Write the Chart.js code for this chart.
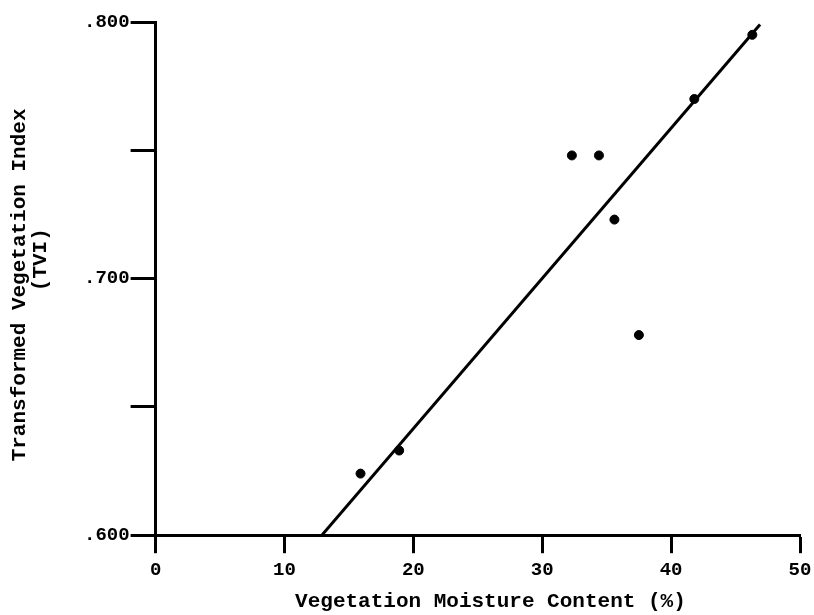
<!DOCTYPE html>
<html>
<head>
<meta charset="utf-8">
<script src="https://cdn.jsdelivr.net/npm/chart.js@4.4.1/dist/chart.umd.min.js"></script>
<style>
    html, body { margin: 0; padding: 0; background: #fff; }
    #wrap { width: 814px; height: 615px; }
</style>
</head>
<body>
<div id="wrap"><canvas id="chart"></canvas></div>
<script>
// measured samples: moisture (%) vs transformed vegetation index
const moisture = [15.9, 18.9, 32.3, 34.4, 35.6, 37.5, 41.8, 46.3]
const tvi = [0.624, 0.633, 0.748, 0.748, 0.723, 0.678, 0.770, 0.795]

// regression line end points
const fitX = [12.9, 46.9]
const fitY = [0.600, 0.799]

const xTicks = [0, 10, 20, 30, 40, 50]
const yLabelled = ['.600', '.700', '.800']

const ink = '#000'
const mono = 'Liberation Mono'

const tickFont = { family: mono, size: 19, weight: 'bold' }
const titleFont = { family: mono, size: 21, weight: 'bold', lineHeight: 1 }

new Chart(document.getElementById('chart'), {
    type: 'scatter',
    data: {
        datasets: [
            {
                data: moisture.map((x, i) => ({ x, y: tvi[i] })),
                backgroundColor: ink,
                borderColor: ink,
                pointRadius: 4.5,
                order: 0,
            },
            {
                data: fitX.map((x, i) => ({ x, y: fitY[i] })),
                showLine: true,
                borderColor: ink,
                borderWidth: 3,
                pointRadius: 0,
                order: 1,
            },
        ],
    },
    options: {
        responsive: true,
        maintainAspectRatio: false,
        animation: false,
        layout: { padding: { top: 22, right: 14, bottom: 2, left: 9 } },
        plugins: {
            legend: { display: false },
            tooltip: { enabled: false },
        },
        scales: {
            x: {
                type: 'linear',
                min: 0,
                max: 50,
                afterBuildTicks: (axis) => {
                    axis.ticks = xTicks.map((value) => ({ value }))
                },
                // the "50" label may overhang; layout padding already leaves room
                afterFit: (axis) => {
                    axis.paddingRight = 0
                },
                border: { display: true, color: ink, width: 3 },
                grid: {
                    drawOnChartArea: false,
                    drawTicks: true,
                    tickLength: 18,
                    tickWidth: 3,
                    tickColor: ink,
                },
                ticks: { color: ink, font: tickFont, padding: 6, maxRotation: 0 },
                title: {
                    display: true,
                    // leading blanks push the title a little right, as in the scan
                    text: '  Vegetation Moisture Content (%)',
                    color: ink,
                    font: titleFont,
                    padding: { top: 3, bottom: 1 },
                },
            },
            y: {
                type: 'linear',
                min: 0.6,
                max: 0.8,
                ticks: {
                    stepSize: 0.05,
                    color: ink,
                    font: tickFont,
                    padding: 1,
                    callback: (v) => {
                        const label = '.' + v.toFixed(3).slice(2)
                        return yLabelled.includes(label) ? label : ''
                    },
                },
                border: { display: true, color: ink, width: 3 },
                grid: {
                    drawOnChartArea: false,
                    drawTicks: true,
                    tickLength: 25,
                    tickWidth: 3,
                    tickColor: ink,
                },
                title: {
                    display: true,
                    text: ['Transformed Vegetation Index ', '   (TVI)'],
                    color: ink,
                    font: titleFont,
                    padding: { top: 0, bottom: 32 },
                },
            },
        },
    },
})
</script>
</body>
</html>
